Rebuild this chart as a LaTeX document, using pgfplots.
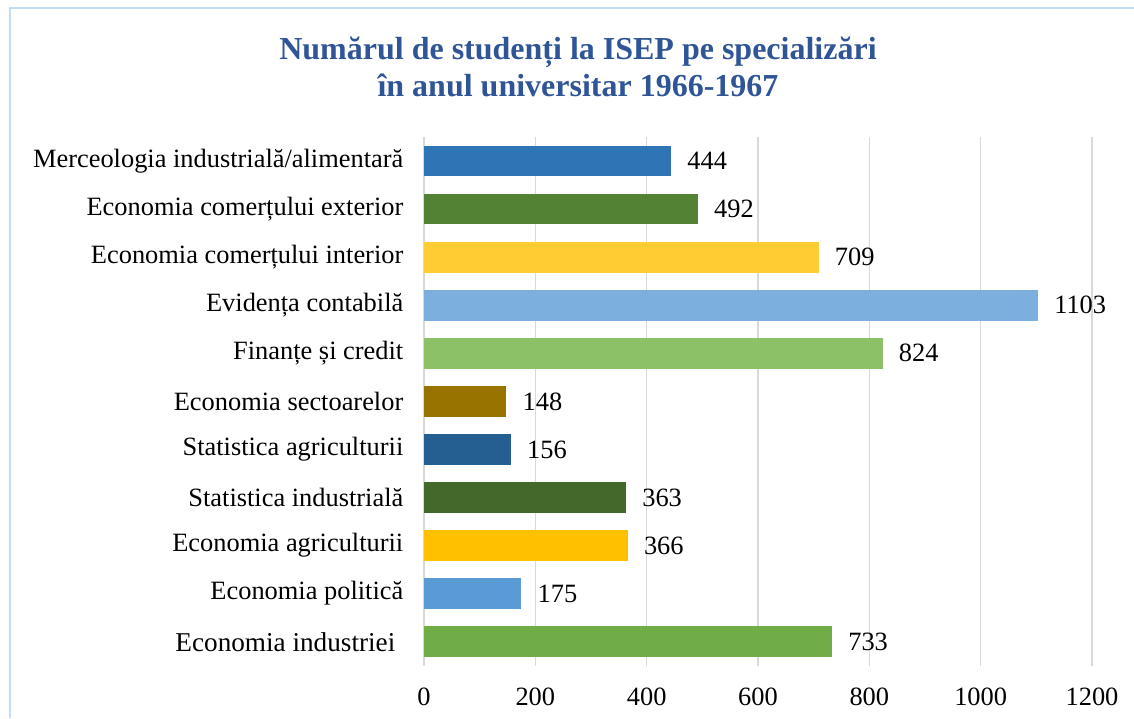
\documentclass[border=0pt]{standalone}
\usepackage{fontspec}
\setmainfont{Liberation Serif}
\usepackage{pgfplots}
\pgfplotsset{compat=1.18}
\definecolor{c1}{HTML}{2E75B6}
\definecolor{c2}{HTML}{548235}
\definecolor{c3}{HTML}{FFCD33}
\definecolor{c4}{HTML}{7CAFDD}
\definecolor{c5}{HTML}{8DC168}
\definecolor{c6}{HTML}{997300}
\definecolor{c7}{HTML}{255E91}
\definecolor{c8}{HTML}{43682B}
\definecolor{c9}{HTML}{FFC000}
\definecolor{c10}{HTML}{5B9BD5}
\definecolor{c11}{HTML}{70AD47}
\definecolor{titleblue}{HTML}{2F5597}
\definecolor{framecol}{HTML}{C5DDF3}
\definecolor{gridcol}{HTML}{D9D9D9}
\begin{document}
\begin{tikzpicture}
\useasboundingbox (0,0) rectangle (850.5pt,538.5pt);
\draw[framecol, line width=1.2pt] (7.5pt,0) -- (7.5pt,532.5pt) -- (850.5pt,532.5pt);
\node[titleblue, anchor=base, font=\fontsize{24pt}{28pt}\selectfont\bfseries] at (433.5pt,493.5pt) {Numărul de studenți la ISEP pe specializări};
\node[titleblue, anchor=base, font=\fontsize{24pt}{28pt}\selectfont\bfseries] at (433.5pt,465.75pt) {în anul universitar 1966-1967};
\begin{axis}[
  at={(318pt,39.2pt)}, anchor=south west,
  scale only axis, width=501pt, height=396.5pt,
  xmin=0, xmax=1200, ymin=-0.5, ymax=10.5,
  xbar, bar width=23pt, bar shift=0pt,
  axis line style={draw=none},
  xtick={0,200,...,1200},
  ytick={0,...,10},
  yticklabels={{\fontsize{20.4pt}{23pt}\selectfont Economia industriei\kern6pt},Economia politică,Economia agriculturii,Statistica industrială,Statistica agriculturii,Economia sectoarelor,Finanțe și credit,Evidența contabilă,Economia comerțului interior,Economia comerțului exterior,Merceologia industrială/alimentară},
  major tick length=0pt,
  xmajorgrids, grid style={gridcol, line width=1pt},
  ymajorgrids=false,
  tick label style={font=\fontsize{19.8pt}{23pt}\selectfont},
  /pgf/number format/assume math mode=true,
  /pgf/number format/1000 sep={},
  xticklabel style={yshift=-13pt},
  yticklabel style={xshift=-12pt},
  nodes near coords,
  nodes near coords style={anchor=west, inner sep=0pt, xshift=12pt, font=\fontsize{19.8pt}{23pt}\selectfont, black, /pgf/number format/1000 sep={}},
  every axis plot/.append style={draw=none},
]
\addplot[fill=c11] coordinates {(733,0)};
\addplot[fill=c10] coordinates {(175,1)};
\addplot[fill=c9] coordinates {(366,2)};
\addplot[fill=c8] coordinates {(363,3)};
\addplot[fill=c7] coordinates {(156,4)};
\addplot[fill=c6] coordinates {(148,5)};
\addplot[fill=c5] coordinates {(824,6)};
\addplot[fill=c4] coordinates {(1103,7)};
\addplot[fill=c3] coordinates {(709,8)};
\addplot[fill=c2] coordinates {(492,9)};
\addplot[fill=c1] coordinates {(444,10)};
\end{axis}
\end{tikzpicture}
\end{document}
